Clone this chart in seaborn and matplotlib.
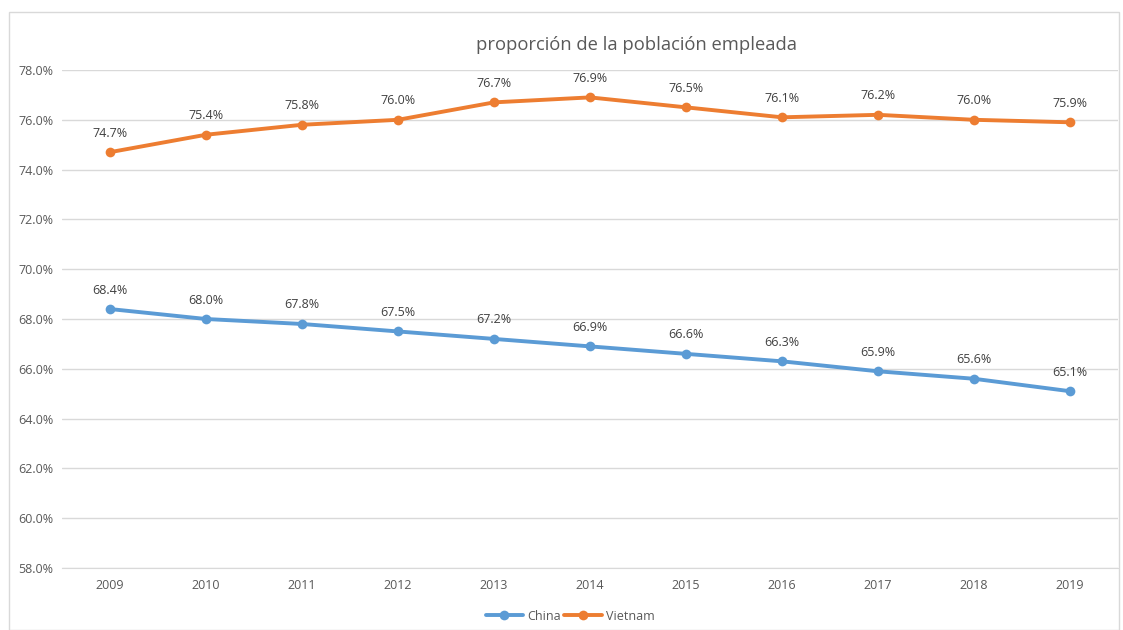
import matplotlib
matplotlib.use("Agg")
import matplotlib.pyplot as plt
from matplotlib.patches import Rectangle
import seaborn as sns
import pandas as pd

years = ['2009', '2010', '2011', '2012', '2013', '2014', '2015', '2016', '2017', '2018', '2019']
china = [68.4, 68.0, 67.8, 67.5, 67.2, 66.9, 66.6, 66.3, 65.9, 65.6, 65.1]
vietnam = [74.7, 75.4, 75.8, 76.0, 76.7, 76.9, 76.5, 76.1, 76.2, 76.0, 75.9]
y_ticks = [58, 60, 62, 64, 66, 68, 70, 72, 74, 76, 78]

df = pd.DataFrame({
    'year': years * 2,
    'value': china + vietnam,
    'country': ['China'] * len(years) + ['Vietnam'] * len(years),
})

sns.set_style('white')
plt.rcParams['font.family'] = ['Open Sans', 'DejaVu Sans']

fig = plt.figure(figsize=(11.23, 6.3), dpi=100)
ax = fig.add_axes([62 / 1123, 1 - 568 / 630, (1118 - 62) / 1123, (568 - 70) / 630])

colors = {'China': '#5B9BD5', 'Vietnam': '#ED7D31'}
sns.lineplot(data=df, x='year', y='value', hue='country', palette=colors,
             marker='o', markersize=7, markeredgewidth=0, linewidth=2.8,
             sort=False, ax=ax)

# data labels
for name, vals in [('China', china), ('Vietnam', vietnam)]:
    for i, v in enumerate(vals):
        ax.annotate(f'{v:.1f}%', (i, v), xytext=(0, 9), textcoords='offset points',
                    ha='center', va='bottom', fontsize=9, color='#404040')

ax.set_xlim(-0.5, len(years) - 0.5)
ax.set_ylim(58, 78)
ax.set_yticks(y_ticks)
ax.set_yticklabels([f'{t:.1f}%' for t in y_ticks])
ax.grid(axis='y', color='#d9d9d9', linewidth=1)
ax.set_axisbelow(True)
for s in ['top', 'right', 'left']:
    ax.spines[s].set_visible(False)
ax.spines['bottom'].set_color('#d9d9d9')
ax.tick_params(axis='both', length=0, labelsize=9, labelcolor='#595959')
ax.tick_params(axis='y', pad=6)
ax.tick_params(axis='x', pad=8)
ax.set_xlabel('')
ax.set_ylabel('')

fig.text(636 / 1123, 1 - 45 / 630, 'proporción de la población empleada',
         ha='center', va='center', fontsize=13.2, color='#595959')

handles, labels = ax.get_legend_handles_labels()
ax.legend(handles, labels, loc='center', bbox_to_anchor=(570 / 1123, 1 - 616 / 630),
          bbox_transform=fig.transFigure, ncol=2, frameon=False, fontsize=9,
          labelcolor='#595959', handlelength=3, columnspacing=0.3, handletextpad=0.3)

fig.patches.append(Rectangle((9 / 1123, 0), 1 - 9 / 1123 - 4 / 1123, 1 - 12 / 630,
                             transform=fig.transFigure, fill=False,
                             edgecolor='#d9d9d9', linewidth=1))

fig.savefig('out.png', dpi=100)
